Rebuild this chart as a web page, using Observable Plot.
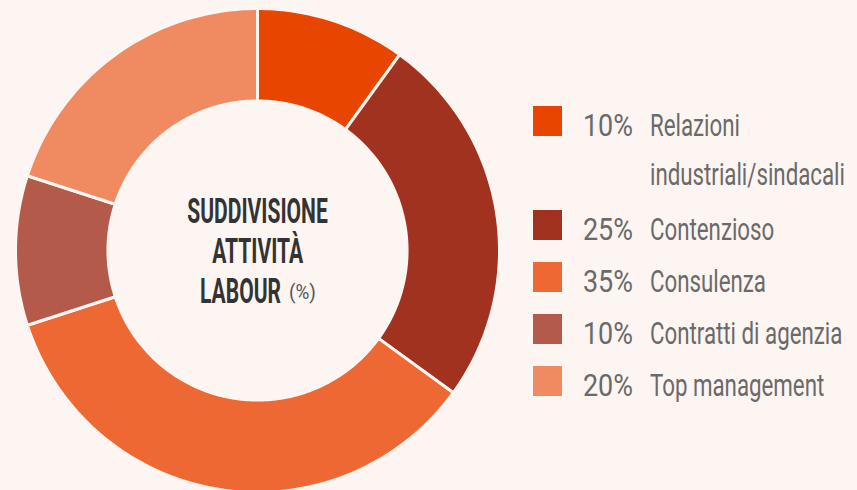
<!DOCTYPE html>
<html><head><meta charset="utf-8">
<script src="https://cdn.jsdelivr.net/npm/d3@7"></script>
<script src="https://cdn.jsdelivr.net/npm/@observablehq/plot@0.6"></script>
<style>
html,body{margin:0;padding:0;background:#fdf5f2;}
#wrap{position:relative;width:857px;height:490px;overflow:hidden;background:#fdf5f2;}
#wrap svg{position:absolute;left:0;top:0;}
</style></head><body><div id="wrap"></div>
<script>
const categories = ["Relazioni industriali/sindacali","Contenzioso","Consulenza","Contratti di agenzia","Top management"];
const values = [10,25,35,10,20];
const legendLines = [["Relazioni","industriali/sindacali"],["Contenzioso"],["Consulenza"],["Contratti di agenzia"],["Top management"]];
const colors = ["#e84600","#a13220","#ee6834","#b35a4a","#f08a60"];
const titleLines = ["SUDDIVISIONE","ATTIVITÀ","LABOUR"];
const titleUnit = "(%)";

const BG = "#fdf5f2";
const FONT = "Roboto, 'Liberation Sans', sans-serif";
const INNER = 0.618;
const total = d3.sum(values);

// donut slice outlines in unit (data) space
let acc = 0;
const ring = [];
categories.forEach((c, i) => {
  const a0 = acc / total * 2 * Math.PI; acc += values[i]; const a1 = acc / total * 2 * Math.PI;
  const n = Math.max(2, Math.ceil((a1 - a0) / (Math.PI / 180)));
  for (let k = 0; k <= n; k++) { const a = a0 + (a1 - a0) * k / n; ring.push({category: c, x: Math.sin(a), y: Math.cos(a)}); }
  for (let k = n; k >= 0; k--) { const a = a0 + (a1 - a0) * k / n; ring.push({category: c, x: INNER * Math.sin(a), y: INNER * Math.cos(a)}); }
});

const titleStyle = {frameAnchor: "middle", fontSize: 36, fontWeight: "bold", fill: "#333", fontFamily: FONT, text: d => d};
const chart = Plot.plot({
  width: 857, height: 490,
  marginLeft: 15, marginRight: 358, marginTop: 8, marginBottom: 0,
  style: {background: "transparent"},
  x: {domain: [-1, 1], range: [15, 499], axis: null},
  y: {domain: [-1, 1], range: [492, 8], axis: null},
  color: {domain: categories, range: colors},
  marks: [
    Plot.line(ring, {x: "x", y: "y", z: "category", fill: "category", stroke: BG, strokeWidth: 3, curve: "linear-closed"}),
    Plot.text([titleLines[0]], {...titleStyle, dy: -38}),
    Plot.text([titleLines[1]], {...titleStyle, dy: 1.5}),
    Plot.text([titleLines[2]], {...titleStyle, dy: 41.5, dx: -17}),
    Plot.text([titleUnit], {frameAnchor: "middle", text: d => d, fontSize: 21, fill: "#555", fontFamily: FONT, dy: 43, dx: 45})
  ]
});
const wrap = document.getElementById("wrap");
wrap.appendChild(chart);

// horizontal condensing around the text's anchor (bbox-based)
function squeeze(el, s) {
  const bb = el.getBBox();
  const anchor = el.getAttribute("text-anchor") || getComputedStyle(el).textAnchor;
  const cx = anchor === "middle" ? bb.x + bb.width / 2 : bb.x;
  const t = el.getAttribute("transform") || "";
  el.setAttribute("transform", `${t} translate(${cx},0) scale(${s},1) translate(${-cx},0)`);
}
const titleTexts = Array.from(chart.querySelectorAll('g[aria-label="text"] text'));
const labourEl = titleTexts.find(t => t.textContent === "LABOUR");
const titleFactor = 81 / labourEl.getComputedTextLength();
titleTexts.forEach(t => squeeze(t, t.textContent === titleUnit ? 0.9 : titleFactor));

// legend
const colorScale = chart.scale("color");
const cmap = new Map(colorScale.domain.map((d, i) => [d, colorScale.range[i]]));
const leg = d3.create("svg").attr("width", 857).attr("height", 490);
wrap.appendChild(leg.node());
let base = 136;
const pctEls = [], labelEls = [];
categories.forEach((c, i) => {
  const g = leg.append("g");
  g.append("rect").attr("x", 533).attr("y", base - 30).attr("width", 29).attr("height", 30).attr("fill", cmap.get(c));
  pctEls.push(g.append("text").attr("x", 583).attr("y", base).attr("font-size", 32).attr("font-family", FONT).attr("fill", "#6a6a6a").text(values[i] + "%").node());
  legendLines[i].forEach((ln, j) => {
    labelEls.push(g.append("text").attr("x", 650).attr("y", base + j * 49).attr("font-size", 32).attr("font-family", FONT).attr("fill", "#6a6a6a").text(ln).node());
  });
  base += legendLines[i].length * 52;
});
const pctFactor = 50 / pctEls[0].getComputedTextLength();
const labelFactor = 90 / labelEls[0].getComputedTextLength();
pctEls.forEach(t => squeeze(t, pctFactor));
labelEls.forEach(t => squeeze(t, labelFactor));
</script></body></html>
